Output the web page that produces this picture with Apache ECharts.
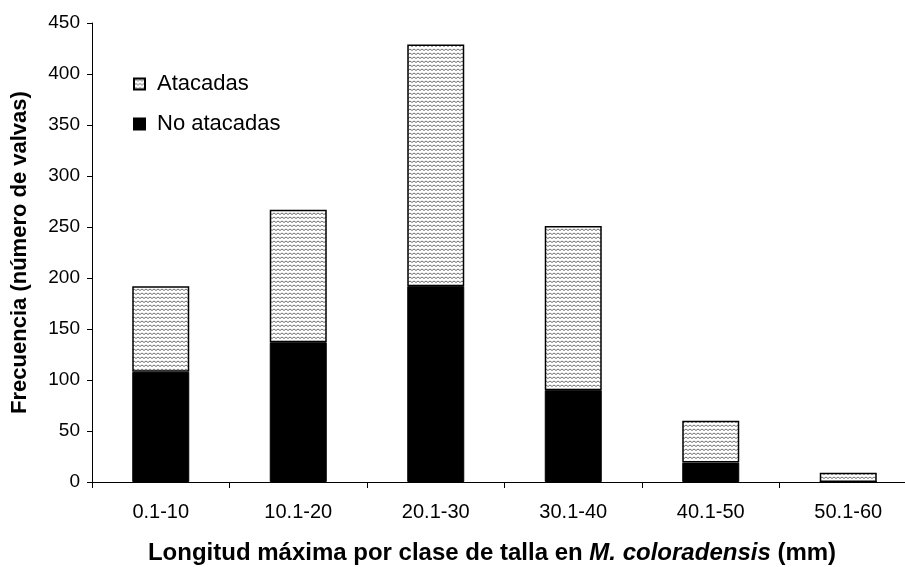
<!DOCTYPE html>
<html><head><meta charset="utf-8">
<script src="https://cdn.jsdelivr.net/npm/echarts@6/dist/echarts.min.js"></script>
<style>html,body{margin:0;padding:0;background:#fff;overflow:hidden;width:905px;height:567px}#c{width:920px;height:567px}</style>
</head><body><div id="c"></div>
<script>
const categories = ['0.1-10','10.1-20','20.1-30','30.1-40','40.1-50','50.1-60'];
const noAtacadas = [108, 137, 192, 90, 19, 0];
const atacadas = [84, 130, 237, 161, 41, 9];
const yTicks = {min: 0, max: 450, interval: 50};

function makePattern(){
  const cv = document.createElement('canvas');
  cv.width = 8; cv.height = 4;
  const g = cv.getContext('2d');
  g.fillStyle = '#ffffff'; g.fillRect(0,0,8,4);
  g.strokeStyle = '#6e6e6e'; g.lineWidth = 1;
  g.beginPath();
  g.moveTo(0,2.5); g.lineTo(2,1); g.lineTo(4,2.5); g.lineTo(6,1); g.lineTo(8,2.5);
  g.stroke();
  return cv;
}
const pat = {image: makePattern(), repeat: 'repeat'};

const chart = echarts.init(document.getElementById('c'), null, {renderer:'canvas'});
const font = 'Liberation Sans, Arial, sans-serif';
chart.setOption({
  animation:false,
  backgroundColor:'#fff',
  grid:{left:92, top:23, width:825, bottom:85, containLabel:false},
  legend:{
    orient:'vertical', left:128, top:68, itemGap:18, itemWidth:11, itemHeight:11,
    icon:'rect',
    data:['Atacadas','No atacadas'],
    textStyle:{fontFamily:font, fontSize:22, color:'#000', padding:[0,0,0,7]}
  },
  xAxis:{
    type:'category', data:categories,
    axisLine:{lineStyle:{color:'#000', width:1}},
    axisTick:{show:true, alignWithLabel:false, length:6, lineStyle:{color:'#000'}},
    axisLabel:{fontFamily:font, fontSize:20, color:'#000', margin:20}
  },
  yAxis:{
    type:'value', min:yTicks.min, max:yTicks.max, interval:yTicks.interval,
    name:'Frecuencia (número de valvas)', nameLocation:'middle', nameGap:61,
    nameTextStyle:{fontFamily:font, fontSize:22, fontWeight:'bold', color:'#000'},
    axisLine:{show:true, lineStyle:{color:'#000'}},
    axisTick:{show:true, length:5, lineStyle:{color:'#000'}},
    axisLabel:{fontFamily:font, fontSize:19, color:'#000', margin:12},
    splitLine:{show:false}
  },
  series:[
    {name:'No atacadas', type:'bar', stack:'t', data:noAtacadas, barWidth:57,
     itemStyle:{color:'#000', borderColor:'#000', borderWidth:1}},
    {name:'Atacadas', type:'bar', stack:'t', data:atacadas, barWidth:57,
     itemStyle:{color:pat, borderColor:'#000', borderWidth:1.5}}
  ],
  graphic:[{
    type:'text', x:492, y:553,
    style:{
      text:'{b|Longitud máxima por clase de talla en }{i|M. coloradensis}{b| (mm)}',
      align:'center', verticalAlign:'middle',
      rich:{
        b:{fontFamily:font, fontSize:24, fontWeight:'bold', fill:'#000'},
        i:{fontFamily:font, fontSize:24, fontWeight:'bold', fontStyle:'italic', fill:'#000'}
      }
    }
  }]
});
</script></body></html>
